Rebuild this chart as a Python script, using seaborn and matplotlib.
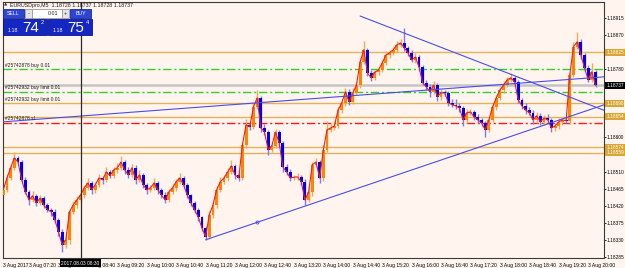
import numpy as np
import pandas as pd
import matplotlib
matplotlib.use("Agg")
import matplotlib.pyplot as plt
import matplotlib.transforms as mtrans
from matplotlib.patches import Rectangle
import seaborn as sns

# ---------------- data (EURUSDpro, M5, 3 Aug 2017 06:45 .. 20:10) ----------------
first_open = 1.18448
closes = [
    1.18462, 1.18493, 1.18520, 1.18546, 1.18535, 1.18488, 1.18456, 1.18435, 1.18446, 1.18427,
    1.18440, 1.18422, 1.18409, 1.18404, 1.18383, 1.18351, 1.18317, 1.18330, 1.18404, 1.18422,
    1.18435, 1.18448, 1.18467, 1.18480, 1.18462, 1.18475, 1.18493, 1.18488, 1.18509, 1.18499,
    1.18514, 1.18520, 1.18535, 1.18514, 1.18501, 1.18520, 1.18488, 1.18501, 1.18475, 1.18462,
    1.18467, 1.18480, 1.18462, 1.18448, 1.18435, 1.18456, 1.18467, 1.18483, 1.18493, 1.18475,
    1.18448, 1.18427, 1.18409, 1.18390, 1.18361, 1.18338, 1.18396, 1.18422, 1.18462, 1.18483,
    1.18493, 1.18509, 1.18525, 1.18501, 1.18493, 1.18580, 1.18633, 1.18628, 1.18680, 1.18704,
    1.18625, 1.18614, 1.18567, 1.18578, 1.18614, 1.18585, 1.18522, 1.18509, 1.18493, 1.18495,
    1.18496, 1.18483, 1.18435, 1.18456, 1.18528, 1.18535, 1.18493, 1.18567, 1.18620, 1.18625,
    1.18630, 1.18672, 1.18691, 1.18720, 1.18694, 1.18717, 1.18738, 1.18799, 1.18831, 1.18770,
    1.18757, 1.18772, 1.18778, 1.18796, 1.18817, 1.18823, 1.18831, 1.18844, 1.18849, 1.18836,
    1.18823, 1.18804, 1.18812, 1.18786, 1.18744, 1.18733, 1.18720, 1.18738, 1.18707, 1.18718,
    1.18717, 1.18691, 1.18686, 1.18683, 1.18678, 1.18646, 1.18665, 1.18667, 1.18654, 1.18646,
    1.18638, 1.18620, 1.18646, 1.18680, 1.18704, 1.18725, 1.18738, 1.18752, 1.18757, 1.18746,
    1.18699, 1.18683, 1.18672, 1.18665, 1.18646, 1.18657, 1.18641, 1.18651, 1.18646, 1.18625,
    1.18630, 1.18641, 1.18646, 1.18644, 1.18765, 1.18839, 1.18852, 1.18817, 1.18783, 1.18752,
    1.18773, 1.18737,
]
upper_wick_pips = [
    0.5, 1.0, 0.8, 1.6, 0.6, 0.5, 0.8, 0.6, 1.2, 0.5,
    0.8, 0.5, 0.6, 0.4, 0.7, 0.5, 0.8, 2.0, 0.6, 0.9,
    1.0, 0.6, 0.8, 1.2, 0.5, 0.7, 1.0, 0.6, 1.4, 0.5,
    0.9, 1.2, 1.5, 0.6, 0.8, 1.0, 0.7, 1.2, 0.5, 0.6,
    0.8, 1.4, 0.6, 0.5, 0.7, 0.9, 1.1, 0.8, 1.3, 0.5,
    0.6, 0.4, 0.5, 0.6, 0.3, 0.5, 0.9, 0.7, 1.0, 1.3,
    0.8, 1.0, 1.6, 0.6, 1.0, 0.8, 1.5, 0.6, 1.2, 2.1,
    0.5, 1.0, 0.6, 0.9, 0.8, 0.6, 0.5, 0.8, 0.7, 0.6,
    0.9, 0.5, 0.6, 1.6, 0.8, 1.0, 0.6, 1.2, 2.2, 1.0,
    1.4, 0.8, 0.6, 1.0, 0.7, 1.2, 0.9, 1.0, 2.2, 0.6,
    0.8, 0.7, 0.6, 0.9, 1.0, 0.8, 0.7, 0.9, 1.1, 4.0,
    0.6, 0.8, 1.0, 0.5, 0.6, 0.8, 0.7, 1.2, 0.5, 1.0,
    0.7, 0.6, 0.9, 1.5, 0.8, 0.5, 1.0, 0.7, 0.6, 0.8,
    0.5, 0.6, 0.8, 1.0, 0.9, 0.7, 1.2, 0.8, 1.4, 0.6,
    0.5, 0.6, 0.8, 0.7, 0.6, 1.0, 0.7, 0.9, 1.0, 0.6,
    0.8, 1.0, 0.9, 0.7, 0.8, 1.2, 2.6, 0.8, 0.6, 0.7,
    2.2, 0.5,
]
lower_wick_pips = [
    0.8, 0.5, 0.6, 0.5, 0.7, 0.9, 0.6, 1.2, 0.5, 0.8,
    0.6, 0.9, 0.7, 1.0, 0.8, 1.2, 2.0, 0.9, 1.0, 0.6,
    0.8, 0.5, 0.7, 0.6, 1.0, 0.8, 0.6, 1.1, 0.5, 0.7,
    0.6, 0.8, 0.5, 1.0, 0.7, 0.6, 1.2, 0.5, 0.9, 1.0,
    0.6, 0.5, 1.0, 0.8, 0.7, 0.6, 0.5, 0.9, 0.6, 0.8,
    0.7, 0.9, 0.8, 1.0, 0.7, 0.8, 0.6, 0.9, 0.7, 0.5,
    0.6, 0.8, 0.5, 1.0, 0.7, 0.6, 0.9, 0.8, 0.6, 0.5,
    1.0, 0.8, 1.4, 0.6, 0.7, 1.0, 1.2, 0.8, 0.9, 0.6,
    0.7, 0.9, 1.3, 0.6, 1.0, 0.5, 1.2, 0.8, 0.6, 0.7,
    0.5, 0.6, 0.8, 0.7, 0.9, 0.6, 0.5, 0.7, 0.6, 0.8,
    0.9, 0.6, 0.7, 0.5, 0.6, 0.8, 0.5, 0.7, 0.6, 0.8,
    0.9, 0.6, 0.8, 1.2, 0.7, 0.9, 1.4, 0.6, 1.0, 0.8,
    0.9, 0.7, 0.6, 0.8, 1.0, 1.5, 0.7, 0.6, 0.8, 0.9,
    0.8, 2.0, 0.6, 0.5, 0.7, 0.6, 0.8, 0.6, 0.5, 0.9,
    0.8, 0.7, 0.9, 0.6, 1.0, 0.8, 0.9, 0.7, 0.6, 1.0,
    0.8, 0.7, 0.9, 0.6, 0.8, 0.5, 0.6, 0.9, 0.8, 0.7,
    0.6, 0.5,
]

xtick_bars = [0, 7, 15, 23, 31, 39, 47, 55, 63, 71, 79, 87, 95, 103, 111, 119, 127, 135, 143, 151, 159]
xtick_labels = ["3 Aug 2017", "3 Aug 07:20", "3 Aug 08:00", "3 Aug 08:40", "3 Aug 09:20",
                "3 Aug 10:00", "3 Aug 10:40", "3 Aug 11:20", "3 Aug 12:00", "3 Aug 12:40",
                "3 Aug 13:20", "3 Aug 14:00", "3 Aug 14:40", "3 Aug 15:20", "3 Aug 16:00",
                "3 Aug 16:40", "3 Aug 17:20", "3 Aug 18:00", "3 Aug 18:40", "3 Aug 19:20",
                "3 Aug 20:00"]
ytick_values = [1.18285, 1.18330, 1.18375, 1.18420, 1.18465, 1.18510, 1.18600, 1.18780, 1.18870, 1.18915]

tan_levels = [1.18825, 1.18690, 1.18654, 1.18574, 1.18559]
green_levels = [1.18780, 1.18720]
red_level = 1.18638
bid_price = 1.18737

order_labels = ["#25742878 buy 0.01", "#25742932 buy limit 0.01", "#25742932 buy limit 0.01", "#25742878 sl"]
order_label_prices = [1.18780, 1.18720, 1.18690, 1.18638]

trend_bars = [(0, 150), (97, 109), (55, 83)]
trend_prices = [(1.18641, 1.18750), (1.18920, 1.18875), (1.18330, 1.18422)]

crosshair_bar = 21
crosshair_label = "2017.08.03 08:30"
header = "EURUSDpro,M5  1.18728 1.18737 1.18728 1.18737"
sell_price = ("1.18", "74", "2")
buy_price = ("1.18", "75", "4")
lot = "0.01"

# ---------------- styling ----------------
sns.set_theme(style="white")
plt.rcParams["font.family"] = ["Liberation Sans", "DejaVu Sans"]

BG = "#FFF5EE"
BULL = "#FF8400"
BEAR = "#0000F5"
BULL_WICK = "#F8A850"
BEAR_WICK = "#7C7CF4"
TAN = "#E2B25A"
TAN_BOX = "#D8A634"
GREEN = "#2ED02E"
RED = "#FF1A1A"
TLINE = "#4C4CE6"

W, H = 625, 268
fig = plt.figure(figsize=(W / 100, H / 100), dpi=100, facecolor=BG)
L, R, T, B = 3, 604, 2, 258
ax = fig.add_axes([L / W, (H - B) / H, (R - L) / W, (B - T) / H])
ax.set_facecolor(BG)

df = pd.DataFrame({"close": closes, "up": upper_wick_pips, "lo": lower_wick_pips})
df["bar"] = np.arange(len(df))
df["open"] = [first_open] + closes[:-1]
df["high"] = df[["open", "close"]].max(axis=1) + df["up"] * 1e-4
df["low"] = df[["open", "close"]].min(axis=1) - df["lo"] * 1e-4
bull = df["close"] >= df["open"]

xmin, xmax = -0.08, 163.3
ymin, ymax = 1.18282, 1.18957

# horizontal levels
for lv in tan_levels:
    ax.axhline(lv, color=TAN, lw=1.0, zorder=1)
for lv in green_levels:
    ax.axhline(lv, color=GREEN, lw=1.0, ls=(0, (6, 2, 1.5, 2)), zorder=1)
ax.axhline(red_level, color=RED, lw=1.0, ls=(0, (6, 2, 1.5, 2)), zorder=1)
ax.axhline(bid_price, color="#C4C4C4", lw=1.8, zorder=1)

# crosshair
ax.axvline(crosshair_bar, color="#2A2A2A", lw=0.9, zorder=6)

# wicks
ax.vlines(df["bar"][bull], df["low"][bull], df["high"][bull], colors=BULL_WICK, lw=1.0, zorder=2)
ax.vlines(df["bar"][~bull], df["low"][~bull], df["high"][~bull], colors=BEAR_WICK, lw=1.0, zorder=2)
# bodies
hgt = (df["close"] - df["open"]).abs().clip(lower=0.000015)
bot = df[["open", "close"]].min(axis=1)
ax.bar(df["bar"][bull], hgt[bull], bottom=bot[bull], width=0.78, color=BULL, lw=0, zorder=3)
ax.bar(df["bar"][~bull], hgt[~bull], bottom=bot[~bull], width=0.78, color=BEAR, lw=0, zorder=3)
# close line
sns.lineplot(data=df, x="bar", y="close", color="#E8202C", lw=0.8, ax=ax, zorder=4, legend=False)

# trend lines (rays to the right)
for k, ((b1, b2), (p1, p2)) in enumerate(zip(trend_bars, trend_prices)):
    slope = (p2 - p1) / (b2 - b1)
    xs = [xmin if k == 0 else b1, xmax]
    ys = [p1 + slope * (x - b1) for x in xs]
    ax.plot(xs, ys, color=TLINE, lw=0.8, zorder=5)
    if k == 2:
        ax.plot([(b1 + b2) / 2], [(p1 + p2) / 2], marker="o", ms=2.2, mfc="none", mec=TLINE, mew=0.6, zorder=5)

ax.set_xlim(xmin, xmax)
ax.set_ylim(ymin, ymax)
ax.set_xlabel("")
ax.set_ylabel("")

# axes ticks
ax.yaxis.tick_right()
ax.set_yticks(ytick_values)
ax.set_yticklabels([f"{v:.5f}" for v in ytick_values])
ax.set_xticks(xtick_bars)
ax.set_xticklabels(xtick_labels, ha="left")
ax.tick_params(axis="y", labelsize=3.4, pad=0.6, length=1.5, width=0.6, colors="black", direction="out")
ax.tick_params(axis="x", labelsize=3.6, pad=1.5, length=2, width=0.6, colors="black", direction="out")
for s in ax.spines.values():
    s.set_color("#3A3A3A")
    s.set_linewidth(0.8)
    s.set_visible(True)

# right-side price boxes
trans = mtrans.blended_transform_factory(ax.transAxes, ax.transData)
for lv in tan_levels:
    ax.text(1.0035, lv, f"{lv:.5f}", transform=trans, fontsize=3.4, color="white", va="center", ha="left",
            bbox=dict(boxstyle="square,pad=0.2", fc=TAN_BOX, ec="none"), clip_on=False, zorder=10)
ax.text(1.0035, bid_price, f"{bid_price:.5f}", transform=trans, fontsize=3.4, color="white", va="center", ha="left",
        bbox=dict(boxstyle="square,pad=0.2", fc="black", ec="none"), clip_on=False, zorder=11)

# order labels (left)
for txt, p in zip(order_labels, order_label_prices):
    ax.text(0.004, p + 0.00004, txt, transform=trans, fontsize=3.5, color="#1A1A1A", va="bottom", ha="left", zorder=7)

# crosshair time label
ax.text(crosshair_bar, -0.01, crosshair_label, transform=mtrans.blended_transform_factory(ax.transData, ax.transAxes),
        fontsize=3.5, color="white", va="top", ha="center",
        bbox=dict(boxstyle="square,pad=0.3", fc="black", ec="none"), clip_on=False, zorder=12)

# ---------------- overlay: header and one-click trading panel ----------------
ov = fig.add_axes([0, 0, 1, 1], facecolor="none")
ov.set_xlim(0, W)
ov.set_ylim(H, 0)
ov.axis("off")
ov.text(4, 5, "\u25b2", fontsize=3, color="#303030", va="center", ha="left", family="DejaVu Sans")
ov.text(10, 5, header, fontsize=3.8, color="#1A1A1A", va="center", ha="left")

def box(x, y, w, h, fc, ec):
    ov.add_patch(Rectangle((x, y), w, h, fc=fc, ec=ec, lw=0.6))

box(3, 9, 21, 9, "#2D44D4", "#1A2A9A")
ov.text(13.5, 13.7, "SELL", fontsize=3.8, color="white", ha="center", va="center")
box(25, 9, 7, 9, "#E4E4E4", "#9A9A9A")
ov.text(28.5, 13.5, "-", fontsize=4, color="#202020", ha="center", va="center")
box(32, 9, 30, 9, "white", "#9A9A9A")
ov.text(53, 13.7, lot, fontsize=3.8, color="#202020", ha="center", va="center")
box(62, 9, 7, 9, "#E4E4E4", "#9A9A9A")
ov.text(65.5, 13.5, "+", fontsize=4, color="#202020", ha="center", va="center")
box(70, 9, 21, 9, "#2D44D4", "#1A2A9A")
ov.text(80.5, 13.7, "BUY", fontsize=3.8, color="white", ha="center", va="center")

for x0, (small, big, sup) in [(3, sell_price), (48, buy_price)]:
    box(x0, 19, 44, 16, "#1426C4", "#0A168A")
    ov.text(x0 + 5, 30, small, fontsize=3.8, color="white", ha="left", va="center")
    ov.text(x0 + 19, 27.5, big, fontsize=11, color="white", ha="left", va="center")
    ov.text(x0 + 37.5, 22.5, sup, fontsize=4, color="white", ha="left", va="center")

fig.savefig("out.png", dpi=100, facecolor=BG)
